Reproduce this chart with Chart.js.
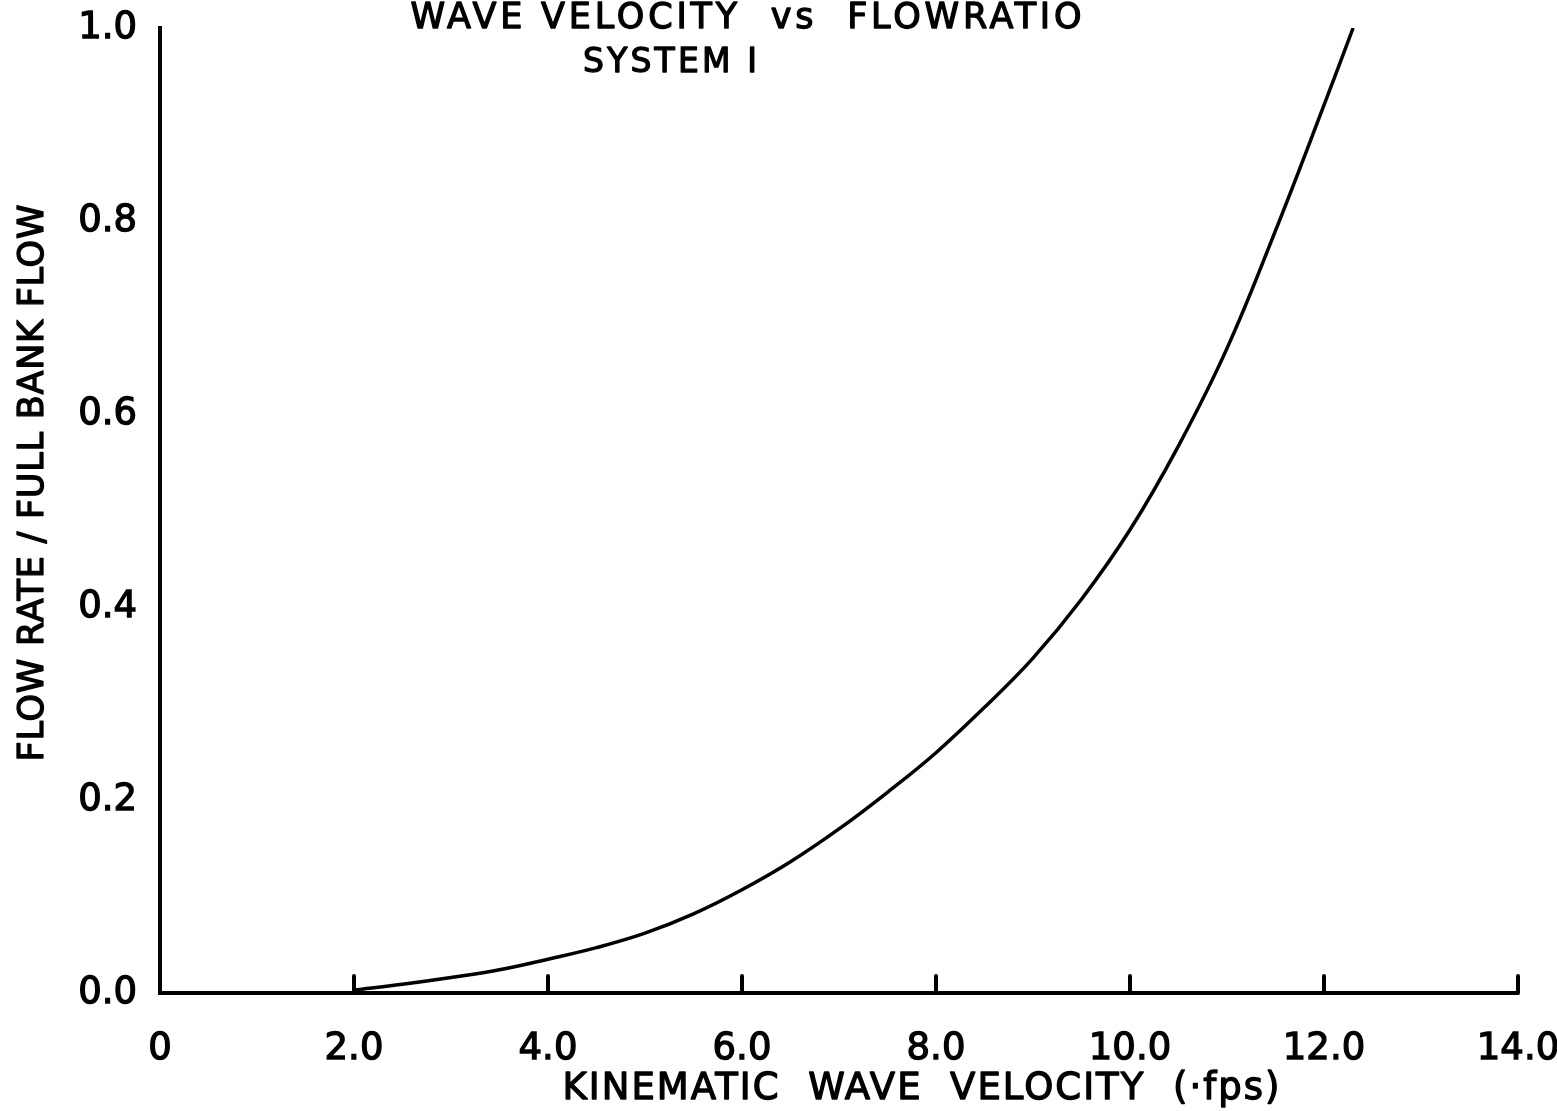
<!DOCTYPE html>
<html>
<head>
<meta charset="utf-8">
<script src="https://cdn.jsdelivr.net/npm/chart.js@4/dist/chart.umd.min.js"></script>
<style>
  html, body { margin: 0; padding: 0; background: #fff; }
  #wrap { width: 1557px; height: 1111px; position: relative; }
</style>
</head>
<body>
<div id="wrap"><canvas id="c" width="1557" height="1111"></canvas></div>
<script>
// Kinematic wave velocity (fps) and the matching flow ratio for System I
const velocity  = [2.0, 2.5, 3.0, 3.5, 4.0, 4.5, 5.0, 5.5, 6.0, 6.5, 7.0, 7.5, 8.0, 8.5, 9.0, 9.5, 10.0, 10.5, 11.0, 11.5, 12.0, 12.3];
const flowRatio = [0.003, 0.009, 0.016, 0.024, 0.035, 0.047, 0.062, 0.082, 0.107, 0.136, 0.170, 0.208, 0.249, 0.296, 0.347, 0.408, 0.480, 0.567, 0.668, 0.790, 0.920, 1.0];

const xTicks = [0, 2, 4, 6, 8, 10, 12, 14];
const yTicks = [0, 0.2, 0.4, 0.6, 0.8, 1.0];

const titleText    = 'WAVE VELOCITY  vs  FLOWRATIO';
const subtitleText = 'SYSTEM I';
const xTitleText   = 'KINEMATIC  WAVE  VELOCITY  (\u00B7fps)';
const yTitleText   = 'FLOW RATE / FULL BANK FLOW';

const FONT = '"DejaVu Sans", "Liberation Sans", sans-serif';
const INK = 1.3; // extra stroke around lettering for a pen-drawn weight

// Writes a string centred on (cx, y), spread so it spans the given width
function spreadText(ctx, text, cx, y, width) {
  ctx.letterSpacing = '0px';
  const w = ctx.measureText(text).width;
  const gap = (width - w) / Math.max(text.length - 1, 1);
  ctx.letterSpacing = gap + 'px';
  ctx.textAlign = 'left';
  ctx.fillText(text, cx - width / 2, y);
  ctx.strokeText(text, cx - width / 2, y);
  ctx.letterSpacing = '0px';
}

// Upward tick marks on the velocity axis, plus the lettered titles
const annotate = {
  id: 'annotate',
  afterDraw(chart) {
    const { ctx, chartArea, scales } = chart;
    ctx.save();
    ctx.strokeStyle = '#000';
    ctx.lineWidth = 4;
    ctx.lineCap = 'round';
    xTicks.forEach(v => {
      if (v === 0) return;
      const px = scales.x.getPixelForValue(v);
      ctx.beginPath();
      ctx.moveTo(px, chartArea.bottom);
      ctx.lineTo(px, chartArea.bottom - 17);
      ctx.stroke();
    });

    ctx.fillStyle = '#000';
    ctx.lineWidth = INK;
    ctx.lineJoin = 'round';
    ctx.textBaseline = 'alphabetic';
    ctx.font = '35px ' + FONT;
    spreadText(ctx, titleText, 746, 28, 671);
    ctx.font = '33px ' + FONT;
    spreadText(ctx, subtitleText, 670, 72, 174);

    ctx.font = '37px ' + FONT;
    spreadText(ctx, xTitleText, 921, 1099, 717);

    ctx.save();
    ctx.translate(43, 483);
    ctx.rotate(-Math.PI / 2);
    ctx.font = '35px ' + FONT;
    spreadText(ctx, yTitleText, 0, 0, 557);
    ctx.restore();
    ctx.restore();
  }
};

// Keep edge tick labels from shrinking the plotting area
const noEdgePadding = s => {
  s.paddingTop = 0; s.paddingBottom = 0; s.paddingLeft = 0; s.paddingRight = 0;
};

new Chart(document.getElementById('c'), {
  type: 'line',
  data: {
    datasets: [{
      data: velocity.map((v, i) => ({ x: v, y: flowRatio[i] })),
      borderColor: '#000',
      borderWidth: 3.5,
      pointRadius: 0,
      fill: false,
      tension: 0.4
    }]
  },
  options: {
    responsive: false,
    animation: false,
    layout: { padding: { top: 28, right: 39, left: 0, bottom: 0 } },
    plugins: { legend: { display: false }, tooltip: { enabled: false } },
    scales: {
      x: {
        type: 'linear',
        min: 0, max: 14,
        afterBuildTicks: s => { s.ticks = xTicks.map(v => ({ value: v })); },
        afterFit: s => { s.height = 118; noEdgePadding(s); },
        grid: { display: false, drawTicks: false },
        border: { display: true, color: '#000', width: 4 },
        ticks: {
          padding: 34,
          color: '#000',
          textStrokeColor: '#000',
          textStrokeWidth: INK,
          maxRotation: 0,
          font: { family: FONT, size: 37 },
          callback: v => v === 0 ? '0' : v.toFixed(1)
        }
      },
      y: {
        type: 'linear',
        min: 0, max: 1,
        afterBuildTicks: s => { s.ticks = yTicks.map(v => ({ value: v })); },
        afterFit: s => { s.width = 160; noEdgePadding(s); },
        grid: { display: false, drawTicks: false },
        border: { display: true, color: '#000', width: 4 },
        ticks: {
          padding: 23,
          color: '#000',
          textStrokeColor: '#000',
          textStrokeWidth: INK,
          font: { family: FONT, size: 37 },
          callback: v => v.toFixed(1)
        }
      }
    }
  },
  plugins: [annotate]
});
</script>
</body>
</html>
